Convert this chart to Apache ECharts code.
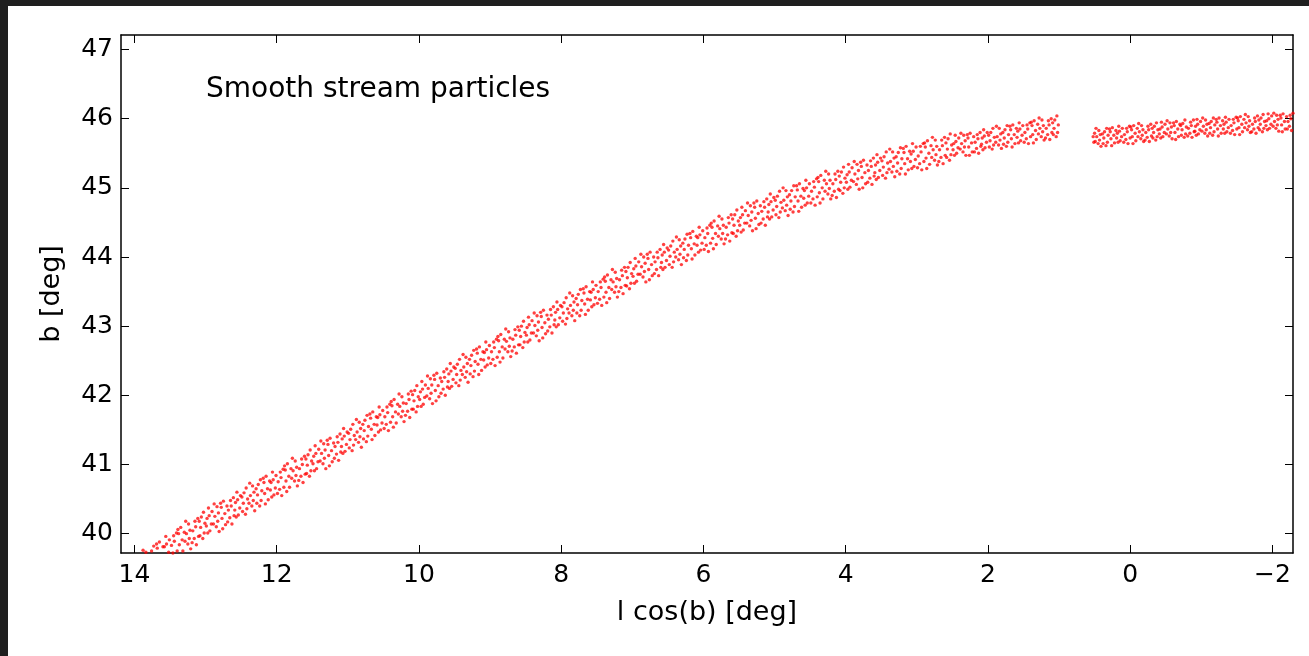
<!DOCTYPE html>
<html>
<head>
<meta charset="utf-8">
<script src="https://cdn.jsdelivr.net/npm/echarts@6/dist/echarts.min.js"></script>
<style>
html,body{margin:0;padding:0;background:#1f1f1f;width:1309px;height:656px;overflow:hidden;}
#chart{position:absolute;left:8px;top:6px;width:1301px;height:650px;background:#fff;}
</style>
</head>
<body>
<div id="chart"></div>
<script>
// Tick values
var xTicks = [14, 12, 10, 8, 6, 4, 2, 0, -2];
var yTicks = [40, 41, 42, 43, 44, 45, 46, 47];

// Stream particles [l cos(b), b] — left part (l 13.9 .. 10)
var streamA = [
[13.84,39.73],[13.88,39.76],[13.73,39.82],[13.76,39.75],
[13.60,39.81],[13.65,39.88],[13.68,39.79],[13.69,39.85],
[13.51,39.91],[13.52,39.73],[13.55,39.85],[13.56,39.96],[13.58,39.81],
[13.40,39.75],[13.41,40.01],[13.44,39.89],[13.45,39.97],[13.46,39.72],[13.48,39.83],
[13.30,40.02],[13.32,39.75],[13.33,39.91],[13.35,40.09],[13.37,39.84],[13.38,40.00],[13.39,40.06],
[13.21,39.78],[13.22,40.05],[13.23,39.93],[13.24,40.14],[13.25,39.85],[13.27,40.00],[13.28,40.18],[13.29,39.89],
[13.10,39.96],[13.11,40.22],[13.13,39.84],[13.14,40.10],[13.15,40.18],[13.16,39.93],[13.18,40.04],[13.19,39.87],
[13.01,40.15],[13.02,40.01],[13.03,40.31],[13.04,39.93],[13.06,40.24],[13.07,40.09],[13.08,39.97],[13.09,40.18],
[12.91,40.32],[12.92,40.14],[12.94,40.04],[12.95,40.26],[12.96,40.37],[12.97,40.01],[12.98,40.22],[12.99,40.11],
[12.81,40.03],[12.82,40.30],[12.83,40.18],[12.84,40.39],[12.85,40.10],[12.87,40.25],[12.88,40.43],[12.89,40.14],
[12.70,40.40],[12.72,40.13],[12.73,40.29],[12.75,40.47],[12.76,40.07],[12.77,40.22],[12.78,40.38],[12.79,40.44],
[12.60,40.26],[12.61,40.52],[12.63,40.14],[12.64,40.40],[12.65,40.48],[12.66,40.23],[12.68,40.34],[12.69,40.17],
[12.51,40.55],[12.52,40.37],[12.54,40.27],[12.55,40.49],[12.56,40.60],[12.57,40.24],[12.58,40.45],[12.59,40.34],
[12.41,40.50],[12.42,40.36],[12.43,40.66],[12.44,40.28],[12.46,40.59],[12.47,40.44],[12.48,40.32],[12.49,40.53],
[12.31,40.33],[12.32,40.60],[12.33,40.48],[12.34,40.69],[12.35,40.40],[12.37,40.55],[12.38,40.73],[12.39,40.44],
[12.21,40.62],[12.22,40.48],[12.23,40.78],[12.24,40.40],[12.26,40.71],[12.27,40.56],[12.28,40.44],[12.29,40.65],
[12.10,40.76],[12.12,40.49],[12.13,40.65],[12.15,40.83],[12.16,40.43],[12.17,40.58],[12.18,40.74],[12.19,40.80],
[12.01,40.84],[12.02,40.66],[12.04,40.56],[12.05,40.78],[12.06,40.89],[12.07,40.53],[12.08,40.74],[12.09,40.63],
[11.90,40.67],[11.91,40.93],[11.93,40.55],[11.94,40.81],[11.95,40.89],[11.96,40.64],[11.98,40.75],[11.99,40.58],
[11.80,40.94],[11.82,40.67],[11.83,40.83],[11.85,41.01],[11.86,40.61],[11.87,40.76],[11.88,40.92],[11.89,40.98],
[11.71,40.69],[11.72,40.96],[11.73,40.84],[11.74,41.05],[11.75,40.76],[11.77,40.91],[11.78,41.09],[11.79,40.80],
[11.60,40.86],[11.61,41.12],[11.63,40.74],[11.64,41.00],[11.65,41.08],[11.66,40.83],[11.68,40.94],[11.69,40.77],
[11.51,41.05],[11.52,40.91],[11.53,41.21],[11.54,40.83],[11.56,41.14],[11.57,40.99],[11.58,40.87],[11.59,41.08],
[11.41,41.22],[11.42,41.04],[11.44,40.94],[11.45,41.16],[11.46,41.27],[11.47,40.91],[11.48,41.12],[11.49,41.01],
[11.31,40.94],[11.32,41.21],[11.33,41.09],[11.34,41.30],[11.35,41.01],[11.37,41.16],[11.38,41.34],[11.39,41.05],
[11.20,41.31],[11.22,41.04],[11.23,41.20],[11.25,41.38],[11.26,40.98],[11.27,41.13],[11.28,41.29],[11.29,41.35],
[11.10,41.18],[11.11,41.44],[11.13,41.06],[11.14,41.32],[11.15,41.40],[11.16,41.15],[11.18,41.26],[11.19,41.09],
[11.01,41.47],[11.02,41.29],[11.04,41.19],[11.05,41.41],[11.06,41.52],[11.07,41.16],[11.08,41.37],[11.09,41.26],
[10.91,41.42],[10.92,41.28],[10.93,41.58],[10.94,41.20],[10.96,41.51],[10.97,41.36],[10.98,41.24],[10.99,41.45],
[10.81,41.25],[10.82,41.52],[10.83,41.40],[10.84,41.61],[10.85,41.32],[10.87,41.47],[10.88,41.65],[10.89,41.36],
[10.71,41.55],[10.72,41.41],[10.73,41.71],[10.74,41.33],[10.76,41.64],[10.77,41.49],[10.78,41.37],[10.79,41.58],
[10.60,41.69],[10.62,41.42],[10.63,41.58],[10.65,41.76],[10.66,41.36],[10.67,41.51],[10.68,41.67],[10.69,41.73],
[10.51,41.78],[10.52,41.60],[10.54,41.50],[10.55,41.72],[10.56,41.83],[10.57,41.47],[10.58,41.68],[10.59,41.57],
[10.40,41.61],[10.41,41.87],[10.43,41.49],[10.44,41.75],[10.45,41.83],[10.46,41.58],[10.48,41.69],[10.49,41.52],
[10.30,41.87],[10.32,41.60],[10.33,41.76],[10.35,41.94],[10.36,41.54],[10.37,41.69],[10.38,41.85],[10.39,41.91],
[10.21,41.62],[10.22,41.89],[10.23,41.77],[10.24,41.98],[10.25,41.69],[10.27,41.84],[10.28,42.02],[10.29,41.73],
[10.10,41.80],[10.11,42.06],[10.13,41.68],[10.14,41.94],[10.15,42.02],[10.16,41.77],[10.18,41.88],[10.19,41.71],
[10.01,41.98],[10.02,41.84],[10.03,42.14],[10.04,41.76],[10.06,42.07],[10.07,41.92],[10.08,41.80],[10.09,42.01]
];

// middle part (l 10 .. 6)
var streamB = [
[9.91,42.15],[9.92,41.97],[9.94,41.87],[9.95,42.09],[9.96,42.20],[9.97,41.84],[9.98,42.05],[9.99,41.94],
[9.81,41.88],[9.82,42.15],[9.83,42.03],[9.84,42.24],[9.85,41.95],[9.87,42.10],[9.88,42.28],[9.89,41.99],
[9.70,42.25],[9.72,41.98],[9.73,42.14],[9.75,42.32],[9.76,41.92],[9.77,42.07],[9.78,42.23],[9.79,42.29],
[9.60,42.12],[9.61,42.38],[9.63,42.00],[9.64,42.26],[9.65,42.34],[9.66,42.09],[9.68,42.20],[9.69,42.03],
[9.51,42.41],[9.52,42.23],[9.54,42.13],[9.55,42.35],[9.56,42.46],[9.57,42.10],[9.58,42.31],[9.59,42.20],
[9.41,42.36],[9.42,42.22],[9.43,42.52],[9.44,42.14],[9.46,42.45],[9.47,42.30],[9.48,42.18],[9.49,42.39],
[9.31,42.19],[9.32,42.46],[9.33,42.34],[9.34,42.55],[9.35,42.26],[9.37,42.41],[9.38,42.59],[9.39,42.30],
[9.21,42.49],[9.22,42.35],[9.23,42.65],[9.24,42.27],[9.26,42.58],[9.27,42.43],[9.28,42.31],[9.29,42.52],
[9.10,42.63],[9.12,42.36],[9.13,42.52],[9.15,42.70],[9.16,42.30],[9.17,42.45],[9.18,42.61],[9.19,42.67],
[9.01,42.72],[9.02,42.54],[9.04,42.44],[9.05,42.66],[9.06,42.77],[9.07,42.41],[9.08,42.62],[9.09,42.51],
[8.90,42.55],[8.91,42.81],[8.93,42.43],[8.94,42.69],[8.95,42.77],[8.96,42.52],[8.98,42.63],[8.99,42.46],
[8.80,42.81],[8.82,42.54],[8.83,42.70],[8.85,42.88],[8.86,42.48],[8.87,42.63],[8.88,42.79],[8.89,42.85],
[8.71,42.56],[8.72,42.83],[8.73,42.71],[8.74,42.92],[8.75,42.63],[8.77,42.78],[8.78,42.96],[8.79,42.67],
[8.60,42.73],[8.61,42.99],[8.63,42.61],[8.64,42.87],[8.65,42.95],[8.66,42.70],[8.68,42.81],[8.69,42.64],
[8.51,42.91],[8.52,42.77],[8.53,43.07],[8.54,42.69],[8.56,43.00],[8.57,42.85],[8.58,42.73],[8.59,42.94],
[8.41,43.08],[8.42,42.90],[8.44,42.80],[8.45,43.02],[8.46,43.13],[8.47,42.77],[8.48,42.98],[8.49,42.87],
[8.31,42.79],[8.32,43.06],[8.33,42.94],[8.34,43.15],[8.35,42.86],[8.37,43.01],[8.38,43.19],[8.39,42.90],
[8.20,43.16],[8.22,42.89],[8.23,43.05],[8.25,43.23],[8.26,42.83],[8.27,42.98],[8.28,43.14],[8.29,43.20],
[8.10,43.02],[8.11,43.28],[8.13,42.90],[8.14,43.16],[8.15,43.24],[8.16,42.99],[8.18,43.10],[8.19,42.93],
[8.01,43.30],[8.02,43.12],[8.04,43.02],[8.05,43.24],[8.06,43.35],[8.07,42.99],[8.08,43.20],[8.09,43.09],
[7.91,43.25],[7.92,43.11],[7.93,43.41],[7.94,43.03],[7.96,43.34],[7.97,43.19],[7.98,43.07],[7.99,43.28],
[7.81,43.08],[7.82,43.35],[7.83,43.23],[7.84,43.44],[7.85,43.15],[7.87,43.30],[7.88,43.48],[7.89,43.19],
[7.71,43.37],[7.72,43.23],[7.73,43.53],[7.74,43.15],[7.76,43.46],[7.77,43.31],[7.78,43.19],[7.79,43.40],
[7.60,43.50],[7.62,43.23],[7.63,43.39],[7.65,43.57],[7.66,43.17],[7.67,43.32],[7.68,43.48],[7.69,43.54],
[7.51,43.59],[7.52,43.41],[7.54,43.31],[7.55,43.53],[7.56,43.64],[7.57,43.28],[7.58,43.49],[7.59,43.38],
[7.40,43.42],[7.41,43.68],[7.43,43.30],[7.44,43.56],[7.45,43.64],[7.46,43.39],[7.48,43.50],[7.49,43.33],
[7.30,43.67],[7.32,43.40],[7.33,43.56],[7.35,43.74],[7.36,43.34],[7.37,43.49],[7.38,43.65],[7.39,43.71],
[7.21,43.42],[7.22,43.69],[7.23,43.57],[7.24,43.78],[7.25,43.49],[7.27,43.64],[7.28,43.82],[7.29,43.53],
[7.10,43.59],[7.11,43.85],[7.13,43.47],[7.14,43.73],[7.15,43.81],[7.16,43.56],[7.18,43.67],[7.19,43.50],
[7.01,43.76],[7.02,43.62],[7.03,43.92],[7.04,43.54],[7.06,43.85],[7.07,43.70],[7.08,43.58],[7.09,43.79],
[6.91,43.93],[6.92,43.75],[6.94,43.65],[6.95,43.87],[6.96,43.98],[6.97,43.62],[6.98,43.83],[6.99,43.72],
[6.81,43.64],[6.82,43.91],[6.83,43.79],[6.84,44.00],[6.85,43.71],[6.87,43.86],[6.88,44.04],[6.89,43.75],
[6.70,44.00],[6.72,43.73],[6.73,43.89],[6.75,44.07],[6.76,43.67],[6.77,43.82],[6.78,43.98],[6.79,44.04],
[6.60,43.85],[6.61,44.11],[6.63,43.73],[6.64,43.99],[6.65,44.07],[6.66,43.82],[6.68,43.93],[6.69,43.76],
[6.51,44.13],[6.52,43.95],[6.54,43.85],[6.55,44.07],[6.56,44.18],[6.57,43.82],[6.58,44.03],[6.59,43.92],
[6.41,44.07],[6.42,43.93],[6.43,44.23],[6.44,43.85],[6.46,44.16],[6.47,44.01],[6.48,43.89],[6.49,44.10],
[6.31,43.89],[6.32,44.16],[6.33,44.04],[6.34,44.25],[6.35,43.96],[6.37,44.11],[6.38,44.29],[6.39,44.00],
[6.21,44.17],[6.22,44.03],[6.23,44.33],[6.24,43.95],[6.26,44.26],[6.27,44.11],[6.28,43.99],[6.29,44.20],
[6.10,44.30],[6.12,44.03],[6.13,44.19],[6.15,44.37],[6.16,43.97],[6.17,44.12],[6.18,44.28],[6.19,44.34],
[6.01,44.38],[6.02,44.20],[6.04,44.10],[6.05,44.32],[6.06,44.43],[6.07,44.07],[6.08,44.28],[6.09,44.17]
];

// right part (l 6 .. 2.5)
var streamC = [
[5.90,44.20],[5.91,44.46],[5.93,44.08],[5.94,44.34],[5.95,44.42],[5.96,44.17],[5.98,44.28],[5.99,44.11],
[5.80,44.45],[5.82,44.18],[5.83,44.34],[5.85,44.52],[5.86,44.12],[5.87,44.27],[5.88,44.43],[5.89,44.49],
[5.71,44.19],[5.72,44.46],[5.73,44.34],[5.74,44.55],[5.75,44.26],[5.77,44.41],[5.78,44.59],[5.79,44.30],
[5.60,44.35],[5.61,44.61],[5.63,44.23],[5.64,44.49],[5.65,44.57],[5.66,44.32],[5.68,44.43],[5.69,44.26],
[5.51,44.52],[5.52,44.38],[5.53,44.68],[5.54,44.30],[5.56,44.61],[5.57,44.46],[5.58,44.34],[5.59,44.55],
[5.41,44.67],[5.42,44.49],[5.44,44.39],[5.45,44.61],[5.46,44.72],[5.47,44.36],[5.48,44.57],[5.49,44.46],
[5.31,44.38],[5.32,44.65],[5.33,44.53],[5.34,44.74],[5.35,44.45],[5.37,44.60],[5.38,44.78],[5.39,44.49],
[5.20,44.74],[5.22,44.47],[5.23,44.63],[5.25,44.81],[5.26,44.41],[5.27,44.56],[5.28,44.72],[5.29,44.78],
[5.10,44.58],[5.11,44.84],[5.13,44.46],[5.14,44.72],[5.15,44.80],[5.16,44.55],[5.18,44.66],[5.19,44.49],
[5.01,44.86],[5.02,44.68],[5.04,44.58],[5.05,44.80],[5.06,44.91],[5.07,44.55],[5.08,44.76],[5.09,44.65],
[4.91,44.79],[4.92,44.65],[4.93,44.95],[4.94,44.57],[4.96,44.88],[4.97,44.73],[4.98,44.61],[4.99,44.82],
[4.81,44.60],[4.82,44.87],[4.83,44.75],[4.84,44.96],[4.85,44.67],[4.87,44.82],[4.88,45.00],[4.89,44.71],
[4.71,44.87],[4.72,44.73],[4.73,45.03],[4.74,44.65],[4.76,44.96],[4.77,44.81],[4.78,44.69],[4.79,44.90],
[4.60,44.99],[4.62,44.72],[4.63,44.88],[4.65,45.06],[4.66,44.66],[4.67,44.81],[4.68,44.97],[4.69,45.03],
[4.51,45.06],[4.52,44.88],[4.54,44.78],[4.55,45.00],[4.56,45.11],[4.57,44.75],[4.58,44.96],[4.59,44.85],
[4.40,44.87],[4.41,45.13],[4.43,44.75],[4.44,45.01],[4.45,45.09],[4.46,44.84],[4.48,44.95],[4.49,44.78],
[4.30,45.11],[4.32,44.84],[4.33,45.00],[4.35,45.18],[4.36,44.78],[4.37,44.93],[4.38,45.09],[4.39,45.15],
[4.21,44.84],[4.22,45.11],[4.23,44.99],[4.24,45.20],[4.25,44.91],[4.27,45.06],[4.28,45.24],[4.29,44.95],
[4.10,44.98],[4.11,45.24],[4.13,44.86],[4.14,45.12],[4.15,45.20],[4.16,44.95],[4.18,45.06],[4.19,44.89],
[4.01,45.14],[4.02,45.00],[4.03,45.30],[4.04,44.92],[4.06,45.23],[4.07,45.08],[4.08,44.96],[4.09,45.17],
[3.91,45.29],[3.92,45.11],[3.94,45.01],[3.95,45.23],[3.96,45.34],[3.97,44.98],[3.98,45.19],[3.99,45.08],
[3.81,44.98],[3.82,45.25],[3.83,45.13],[3.84,45.34],[3.85,45.05],[3.87,45.20],[3.88,45.38],[3.89,45.09],
[3.70,45.33],[3.72,45.06],[3.73,45.22],[3.75,45.40],[3.76,45.00],[3.77,45.15],[3.78,45.31],[3.79,45.37],
[3.60,45.17],[3.61,45.43],[3.63,45.05],[3.64,45.31],[3.65,45.39],[3.66,45.14],[3.68,45.25],[3.69,45.08],
[3.51,45.43],[3.52,45.25],[3.54,45.15],[3.55,45.37],[3.56,45.48],[3.57,45.12],[3.58,45.33],[3.59,45.22],
[3.41,45.36],[3.42,45.22],[3.43,45.52],[3.44,45.14],[3.46,45.45],[3.47,45.30],[3.48,45.18],[3.49,45.39],
[3.31,45.16],[3.32,45.43],[3.33,45.31],[3.34,45.52],[3.35,45.23],[3.37,45.38],[3.38,45.56],[3.39,45.27],
[3.21,45.42],[3.22,45.28],[3.23,45.58],[3.24,45.20],[3.26,45.51],[3.27,45.36],[3.28,45.24],[3.29,45.45],
[3.10,45.53],[3.12,45.26],[3.13,45.42],[3.15,45.60],[3.16,45.20],[3.17,45.35],[3.18,45.51],[3.19,45.57],
[3.01,45.59],[3.02,45.41],[3.04,45.31],[3.05,45.53],[3.06,45.64],[3.07,45.28],[3.08,45.49],[3.09,45.38],
[2.90,45.38],[2.91,45.64],[2.93,45.26],[2.94,45.52],[2.95,45.60],[2.96,45.35],[2.98,45.46],[2.99,45.29],
[2.80,45.61],[2.82,45.34],[2.83,45.50],[2.85,45.68],[2.86,45.28],[2.87,45.43],[2.88,45.59],[2.89,45.65],
[2.71,45.33],[2.72,45.60],[2.73,45.48],[2.74,45.69],[2.75,45.40],[2.77,45.55],[2.78,45.73],[2.79,45.44],
[2.60,45.47],[2.61,45.73],[2.63,45.35],[2.64,45.61],[2.65,45.69],[2.66,45.44],[2.68,45.55],[2.69,45.38],
[2.51,45.62],[2.52,45.48],[2.53,45.78],[2.54,45.40],[2.56,45.71],[2.57,45.56],[2.58,45.44],[2.59,45.65]
];

// leading end (l 2.5 .. 1.0)
var streamD = [
[2.41,45.72],[2.42,45.58],[2.44,45.50],[2.45,45.67],[2.46,45.76],[2.47,45.47],[2.48,45.64],[2.49,45.55],
[2.31,45.47],[2.32,45.68],[2.33,45.59],[2.34,45.76],[2.35,45.52],[2.37,45.64],[2.38,45.79],[2.39,45.56],
[2.20,45.74],[2.22,45.52],[2.23,45.65],[2.25,45.79],[2.26,45.47],[2.27,45.59],[2.28,45.72],[2.29,45.77],
[2.10,45.60],[2.11,45.80],[2.13,45.50],[2.14,45.71],[2.15,45.77],[2.16,45.57],[2.18,45.66],[2.19,45.52],
[2.01,45.80],[2.02,45.66],[2.04,45.58],[2.05,45.75],[2.06,45.84],[2.07,45.55],[2.08,45.72],[2.09,45.63],
[1.91,45.73],[1.92,45.62],[1.93,45.86],[1.94,45.56],[1.96,45.80],[1.97,45.68],[1.98,45.59],[1.99,45.76],
[1.81,45.57],[1.82,45.78],[1.83,45.69],[1.84,45.86],[1.85,45.62],[1.87,45.74],[1.88,45.89],[1.89,45.66],
[1.71,45.77],[1.72,45.66],[1.73,45.90],[1.74,45.60],[1.76,45.84],[1.77,45.72],[1.78,45.63],[1.79,45.80],
[1.60,45.86],[1.62,45.64],[1.63,45.77],[1.65,45.91],[1.66,45.59],[1.67,45.71],[1.68,45.84],[1.69,45.89],
[1.51,45.90],[1.52,45.76],[1.54,45.68],[1.55,45.85],[1.56,45.94],[1.57,45.65],[1.58,45.82],[1.59,45.73],
[1.40,45.74],[1.41,45.94],[1.43,45.64],[1.44,45.85],[1.45,45.91],[1.46,45.71],[1.48,45.80],[1.49,45.66],
[1.30,45.92],[1.32,45.70],[1.33,45.83],[1.35,45.97],[1.36,45.65],[1.37,45.77],[1.38,45.90],[1.39,45.95],
[1.21,45.69],[1.22,45.90],[1.23,45.81],[1.24,45.98],[1.25,45.74],[1.27,45.86],[1.28,46.01],[1.29,45.78],
[1.10,45.80],[1.11,46.00],[1.13,45.70],[1.14,45.91],[1.15,45.97],[1.16,45.77],[1.18,45.86],[1.19,45.72],
[1.01,45.91],[1.02,45.80],[1.03,46.04],[1.04,45.74],[1.06,45.98],[1.07,45.86],[1.08,45.77],[1.09,45.94]
];

// piece beyond the gap (l 0.52 .. -2.29)
var streamE = [
[0.52,45.74],[0.51,45.66],[0.50,45.79],
[0.41,45.60],[0.42,45.77],[0.43,45.69],[0.44,45.83],[0.45,45.64],[0.47,45.74],[0.48,45.86],[0.49,45.67],
[0.31,45.76],[0.32,45.66],[0.33,45.86],[0.34,45.61],[0.36,45.81],[0.37,45.72],[0.38,45.64],[0.39,45.78],
[0.20,45.83],[0.22,45.65],[0.23,45.76],[0.25,45.87],[0.26,45.61],[0.27,45.71],[0.28,45.81],[0.29,45.85],
[0.11,45.86],[0.12,45.74],[0.14,45.68],[0.15,45.82],[0.16,45.89],[0.17,45.66],[0.18,45.79],[0.19,45.72],
[0.00,45.72],[0.01,45.89],[0.03,45.64],[0.04,45.81],[0.05,45.86],[0.06,45.70],[0.08,45.77],[0.09,45.66],
[-0.10,45.86],[-0.08,45.68],[-0.07,45.79],[-0.05,45.90],[-0.04,45.64],[-0.03,45.74],[-0.02,45.84],[-0.01,45.88],
[-0.19,45.67],[-0.18,45.84],[-0.17,45.76],[-0.16,45.90],[-0.15,45.71],[-0.13,45.81],[-0.12,45.93],[-0.11,45.74],
[-0.30,45.75],[-0.29,45.92],[-0.27,45.67],[-0.26,45.84],[-0.25,45.89],[-0.24,45.73],[-0.22,45.80],[-0.21,45.69],
[-0.39,45.84],[-0.38,45.74],[-0.37,45.94],[-0.36,45.69],[-0.34,45.89],[-0.33,45.80],[-0.32,45.72],[-0.31,45.86],
[-0.49,45.92],[-0.48,45.80],[-0.46,45.74],[-0.45,45.88],[-0.44,45.95],[-0.43,45.72],[-0.42,45.85],[-0.41,45.78],
[-0.59,45.71],[-0.58,45.88],[-0.57,45.80],[-0.56,45.94],[-0.55,45.75],[-0.53,45.85],[-0.52,45.97],[-0.51,45.78],
[-0.70,45.92],[-0.68,45.74],[-0.67,45.85],[-0.65,45.96],[-0.64,45.70],[-0.63,45.80],[-0.62,45.90],[-0.61,45.94],
[-0.79,45.88],[-0.78,45.78],[-0.77,45.98],[-0.76,45.73],[-0.74,45.93],[-0.73,45.84],[-0.72,45.76],[-0.71,45.90],
[-0.90,45.81],[-0.89,45.98],[-0.87,45.73],[-0.86,45.90],[-0.85,45.95],[-0.84,45.79],[-0.82,45.86],[-0.81,45.75],
[-0.99,45.96],[-0.98,45.84],[-0.96,45.78],[-0.95,45.92],[-0.94,45.99],[-0.93,45.76],[-0.92,45.89],[-0.91,45.82],
[-1.09,45.75],[-1.08,45.92],[-1.07,45.84],[-1.06,45.98],[-1.05,45.79],[-1.03,45.89],[-1.02,46.01],[-1.01,45.82],
[-1.19,45.91],[-1.18,45.81],[-1.17,46.01],[-1.16,45.76],[-1.14,45.96],[-1.13,45.87],[-1.12,45.79],[-1.11,45.93],
[-1.30,45.97],[-1.28,45.79],[-1.27,45.90],[-1.25,46.01],[-1.24,45.75],[-1.23,45.85],[-1.22,45.95],[-1.21,45.99],
[-1.39,45.99],[-1.38,45.87],[-1.36,45.81],[-1.35,45.95],[-1.34,46.02],[-1.33,45.79],[-1.32,45.92],[-1.31,45.85],
[-1.50,45.85],[-1.49,46.02],[-1.47,45.77],[-1.46,45.94],[-1.45,45.99],[-1.44,45.83],[-1.42,45.90],[-1.41,45.79],
[-1.60,45.99],[-1.58,45.81],[-1.57,45.92],[-1.55,46.03],[-1.54,45.77],[-1.53,45.87],[-1.52,45.97],[-1.51,46.01],
[-1.69,45.80],[-1.68,45.97],[-1.67,45.89],[-1.66,46.03],[-1.65,45.84],[-1.63,45.94],[-1.62,46.06],[-1.61,45.87],
[-1.80,45.87],[-1.79,46.04],[-1.77,45.79],[-1.76,45.96],[-1.75,46.01],[-1.74,45.85],[-1.72,45.92],[-1.71,45.81],
[-1.89,45.96],[-1.88,45.86],[-1.87,46.06],[-1.86,45.81],[-1.84,46.01],[-1.83,45.92],[-1.82,45.84],[-1.81,45.98],
[-1.99,46.04],[-1.98,45.92],[-1.96,45.86],[-1.95,46.00],[-1.94,46.07],[-1.93,45.84],[-1.92,45.97],[-1.91,45.90],
[-2.09,45.82],[-2.08,45.99],[-2.07,45.91],[-2.06,46.05],[-2.05,45.86],[-2.03,45.96],[-2.02,46.08],[-2.01,45.89],
[-2.20,46.03],[-2.18,45.85],[-2.17,45.96],[-2.15,46.07],[-2.14,45.81],[-2.13,45.91],[-2.12,46.01],[-2.11,46.05],
[-2.29,46.08],[-2.27,45.83],[-2.26,46.00],[-2.25,46.05],[-2.24,45.89],[-2.22,45.96],[-2.21,45.85]
];

var FONT = 'DejaVu Sans';
var X_MIN = -2.29, X_MAX = 14.19, Y_MIN = 39.72, Y_MAX = 47.21;

function fmt(v) { return v < 0 ? '\u2212' + Math.abs(v) : String(v); }

function xAx(pos, showLabel) {
  return {
    type: 'value', position: pos, inverse: true, min: X_MIN, max: X_MAX,
    name: showLabel ? 'l cos(b) [deg]' : '', nameLocation: 'middle', nameGap: 46,
    nameTextStyle: { fontFamily: FONT, fontSize: 27, color: '#000' },
    axisLine: { show: true, onZero: false, lineStyle: { color: '#000', width: 1.5 } },
    axisTick: { show: true, inside: true, length: 8, customValues: xTicks, lineStyle: { color: '#000', width: 1 } },
    axisLabel: { show: showLabel, customValues: xTicks, margin: 10, formatter: fmt,
                 fontFamily: FONT, fontSize: 25, color: '#000' },
    splitLine: { show: false }
  };
}
function yAx(pos, showLabel) {
  return {
    type: 'value', position: pos, min: Y_MIN, max: Y_MAX,
    name: showLabel ? 'b [deg]' : '', nameLocation: 'middle', nameGap: 56,
    nameTextStyle: { fontFamily: FONT, fontSize: 27, color: '#000' },
    axisLine: { show: true, onZero: false, lineStyle: { color: '#000', width: 1.5 } },
    axisTick: { show: true, inside: true, length: 8, customValues: yTicks, lineStyle: { color: '#000', width: 1 } },
    axisLabel: { show: showLabel, customValues: yTicks, margin: 8, formatter: fmt,
                 fontFamily: FONT, fontSize: 25, color: '#000' },
    splitLine: { show: false }
  };
}

function ser(name, data) {
  return {
    name: name, type: 'scatter', xAxisIndex: 0, yAxisIndex: 0, data: data,
    symbol: 'circle', symbolSize: 3.4, clip: true, silent: true,
    itemStyle: { color: '#ff0000', opacity: 0.75 }
  };
}

var chart = echarts.init(document.getElementById('chart'), null, { renderer: 'canvas' });
chart.setOption({
  animation: false,
  backgroundColor: '#ffffff',
  grid: { left: 113, top: 29, width: 1172, height: 518, containLabel: false },
  xAxis: [xAx('bottom', true), xAx('top', false)],
  yAxis: [yAx('left', true), yAx('right', false)],
  graphic: [{
    type: 'text', left: 198, top: 70,
    style: { text: 'Smooth stream particles', fontFamily: FONT, fontSize: 28, fill: '#000' }
  }],
  series: [ser('a', streamA), ser('b', streamB), ser('c', streamC), ser('d', streamD), ser('e', streamE)]
});
</script>
</body>
</html>
